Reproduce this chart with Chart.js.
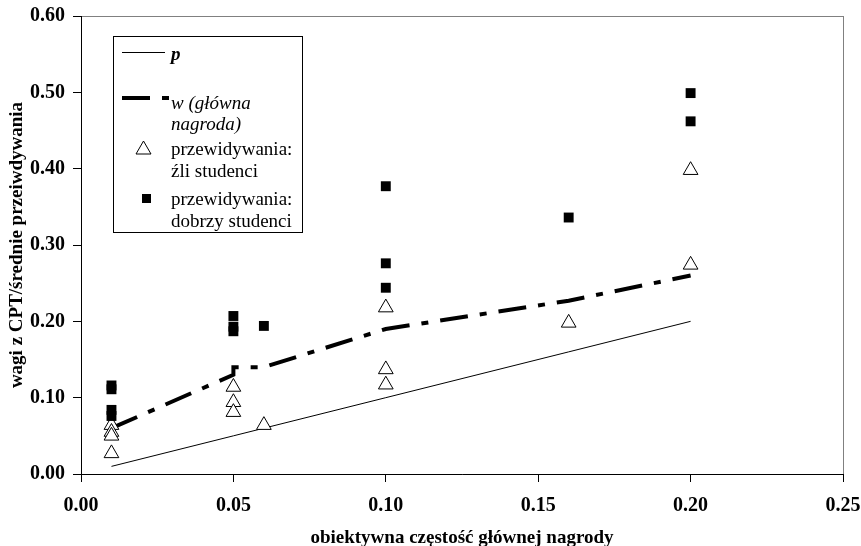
<!DOCTYPE HTML>
<html>
<head>
  <script src="https://cdn.jsdelivr.net/npm/chart.js"></script>
  <style>
    body { margin: 0; background: #fff; }
  </style>
  <script>
    // p = objective probability (diagonal)
    const pX = [0.01, 0.05, 0.06, 0.10, 0.16, 0.20];
    const pY = [0.01, 0.05, 0.06, 0.10, 0.16, 0.20];

    // w (główna nagroda) - CPT weights
    const wX = [0.01, 0.05, 0.05, 0.06, 0.10, 0.16, 0.20];
    const wY = [0.06, 0.13, 0.14, 0.14, 0.19, 0.227, 0.26];

    // predictions of weak students (triangles)
    const weakX = [0.01, 0.01, 0.01, 0.01, 0.05, 0.05, 0.05, 0.06, 0.10, 0.10, 0.10, 0.16, 0.20, 0.20];
    const weakY = [0.064, 0.055, 0.050, 0.027, 0.114, 0.094, 0.081, 0.064, 0.218, 0.137, 0.117, 0.198, 0.398, 0.274];

    // predictions of good students (squares)
    const goodX = [0.01, 0.01, 0.01, 0.01, 0.05, 0.05, 0.05, 0.06, 0.10, 0.10, 0.10, 0.16, 0.20, 0.20];
    const goodY = [0.116, 0.111, 0.084, 0.076, 0.207, 0.193, 0.187, 0.194, 0.377, 0.276, 0.244, 0.336, 0.499, 0.462];

    const xTicks = [0, 0.05, 0.10, 0.15, 0.20, 0.25];
    const yTicks = [0, 0.1, 0.2, 0.3, 0.4, 0.5, 0.6];

    const xTitle = 'obiektywna częstość głównej nagrody';
    const yTitle = 'wagi z CPT/średnie przeiwdywania';

    function pairs(xs, ys) {
      return xs.map((x, i) => ({x: x, y: ys[i]}));
    }

    const wDash = [28, 12, 7, 12];

    // gray frame round the plot area
    const framePlugin = {
      id: 'frame',
      beforeDraw(chart) {
        const a = chart.chartArea, ctx = chart.ctx;
        ctx.save();
        ctx.strokeStyle = '#808080';
        ctx.lineWidth = 1;
        ctx.strokeRect(a.left + 0.5, a.top + 0.5, a.right - a.left, a.bottom - a.top);
        ctx.restore();
      }
    };

    // boxed legend inside the plot, with two-line labels
    const legendPlugin = {
      id: 'boxLegend',
      afterDraw(chart) {
        const ctx = chart.ctx;
        ctx.save();
        ctx.fillStyle = '#fff';
        ctx.fillRect(113, 36, 189, 196);
        ctx.strokeStyle = '#000';
        ctx.lineWidth = 1;
        ctx.strokeRect(113.5, 36.5, 189, 196);

        // p sample
        ctx.beginPath();
        ctx.moveTo(122, 52.5);
        ctx.lineTo(165, 52.5);
        ctx.stroke();

        // w sample
        ctx.lineWidth = 4;
        ctx.setLineDash(wDash);
        ctx.beginPath();
        ctx.moveTo(122, 98);
        ctx.lineTo(169, 98);
        ctx.stroke();
        ctx.setLineDash([]);

        // triangle sample
        ctx.lineWidth = 1;
        ctx.beginPath();
        ctx.moveTo(143.5, 141);
        ctx.lineTo(151, 154);
        ctx.lineTo(136, 154);
        ctx.closePath();
        ctx.stroke();

        // square sample
        ctx.fillStyle = '#000';
        ctx.fillRect(142, 194, 9, 9);

        ctx.textBaseline = 'middle';
        ctx.textAlign = 'left';
        ctx.font = 'italic bold 19px "Liberation Serif"';
        ctx.fillText('p', 171, 55);
        ctx.font = 'italic 19px "Liberation Serif"';
        ctx.fillText('w (główna', 171, 104);
        ctx.fillText('nagroda)', 171, 125);
        ctx.font = '19px "Liberation Serif"';
        ctx.fillText('przewidywania:', 171, 150);
        ctx.fillText('źli studenci', 171, 172);
        ctx.fillText('przewidywania:', 171, 200);
        ctx.fillText('dobrzy studenci', 171, 222);
        ctx.restore();
      }
    };

    window.onload = function() {
      const ctx = document.getElementById('myChart').getContext('2d');
      Chart.defaults.font.family = '"Liberation Serif", "Times New Roman", serif';
      Chart.defaults.color = '#000';

      new Chart(ctx, {
        type: 'scatter',
        data: {
          datasets: [
            {
              label: 'p',
              data: pairs(pX, pY),
              showLine: true,
              borderColor: '#000',
              borderWidth: 1,
              pointRadius: 0,
              order: 4
            },
            {
              label: 'w (główna nagroda)',
              data: pairs(wX, wY),
              showLine: true,
              borderColor: '#000',
              borderWidth: 4,
              borderDash: wDash,
              pointRadius: 0,
              order: 3
            },
            {
              label: 'przewidywania: źli studenci',
              data: pairs(weakX, weakY),
              pointStyle: 'triangle',
              pointRadius: 8.5,
              backgroundColor: '#fff',
              borderColor: '#000',
              borderWidth: 1,
              order: 2
            },
            {
              label: 'przewidywania: dobrzy studenci',
              data: pairs(goodX, goodY),
              pointStyle: 'rect',
              pointRadius: 7,
              backgroundColor: '#000',
              borderColor: '#000',
              borderWidth: 0,
              order: 1
            }
          ]
        },
        options: {
          responsive: false,
          animation: false,
          layout: { padding: { top: 16, right: 18, left: 0, bottom: 0 } },
          plugins: {
            legend: { display: false },
            tooltip: { enabled: false }
          },
          scales: {
            x: {
              type: 'linear',
              min: 0,
              max: 0.25,
              afterBuildTicks: s => { s.ticks = xTicks.map(v => ({value: v})); },
              afterFit: s => { s.height = 72; s.paddingLeft = 0; s.paddingRight = 0; },
              grid: { drawOnChartArea: false, tickLength: 8, color: '#000' },
              border: { color: '#000', width: 1 },
              ticks: {
                padding: 12,
                maxRotation: 0,
                font: { size: 20, weight: 'bold' },
                callback: v => v.toFixed(2)
              },
              title: {
                display: true,
                text: xTitle,
                font: { size: 19, weight: 'bold', lineHeight: 0.8 },
                padding: { top: 0, bottom: 0 }
              }
            },
            y: {
              type: 'linear',
              min: 0,
              max: 0.6,
              afterBuildTicks: s => { s.ticks = yTicks.map(v => ({value: v})); },
              afterFit: s => { s.width = 81; s.paddingTop = 0; s.paddingBottom = 0; },
              grid: { drawOnChartArea: false, tickLength: 8, color: '#000' },
              border: { color: '#000', width: 1 },
              ticks: {
                padding: 8,
                font: { size: 20, weight: 'bold' },
                callback: v => v.toFixed(2)
              },
              title: {
                display: true,
                text: yTitle,
                font: { size: 19, weight: 'bold', lineHeight: 1.2 },
                padding: { top: 6, bottom: 0 }
              }
            }
          }
        },
        plugins: [framePlugin, legendPlugin]
      });
    };
  </script>
</head>
<body>
  <canvas id="myChart" width="861" height="546"></canvas>
</body>
</html>
